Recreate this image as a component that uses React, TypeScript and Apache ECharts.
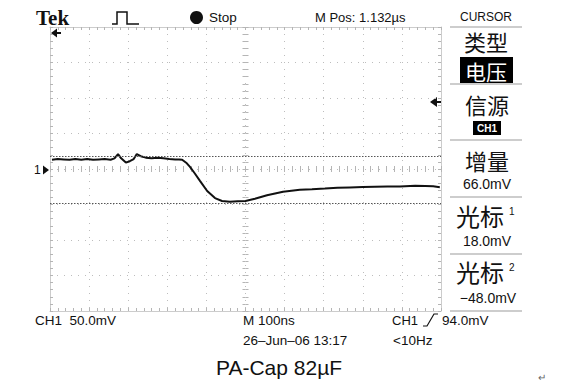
import React, { useEffect, useRef } from "react";
import * as echarts from "echarts";

// Trace samples: time relative to screen centre (ns) and CH1 voltage (mV)
const timeNs = [
  -495, -480, -465, -450, -435, -420, -405, -390, -375, -360,
  -345, -335, -326, -318, -306, -296, -286, -278, -268, -255,
  -240, -225, -210, -195, -180, -170, -162, -150, -142, -130,
  -116, -98, -78, -60, -40, -20, 0, 24, 55, 96,
  139, 170, 203, 235, 267, 300, 331, 363, 395, 434,
  460, 480, 497,
];
const voltageMv = [
  13, 14, 13.5, 13, 14, 13, 14, 13, 13.5, 14,
  13, 15, 21, 15, 9, 11, 14, 21, 18, 16,
  15, 16, 15, 14, 13.5, 13.5, 13, 8, 3, -6,
  -17, -31, -41, -45, -46, -45.5, -45, -42, -37, -32,
  -29.3, -28.5, -27.5, -26.5, -26, -25.5, -25, -24.5, -24.6, -23.7,
  -24, -24.4, -25.8,
];
const cursorMv = [18, -48];
const xRangeNs = [-500, 500];
const yRangeMv = [-200, 200];

const headerMPos = "M Pos: 1.132\u00b5s";
const panelTitle = "CURSOR";
const panelLabels = ["类型", "电压", "信源", "CH1", "增量", "66.0mV", "光标", "18.0mV", "光标", "\u221248.0mV"];
const footerTexts = ["CH1  50.0mV", "M 100ns", "26\u2013Jun\u201306 13:17", "CH1", "94.0mV", "<10Hz"];
const caption = "PA-Cap 82\u00b5F";

const SANS = '"Liberation Sans", Arial, sans-serif';
const CJK = '"Noto Sans CJK SC", sans-serif';

function T(x: number, y: number, text: string, size: number, extra: any = {}) {
  const { font, ...rest } = extra;
  return {
    type: "text",
    x,
    y,
    silent: true,
    style: {
      text,
      font: font || `${size}px ${SANS}`,
      fill: "#111",
      textAlign: "left",
      verticalAlign: "middle",
      ...rest,
    },
  };
}

export default function App() {
  const ref = useRef<HTMLDivElement>(null);
  useEffect(() => {
    if (!ref.current) return;
    const chart = echarts.init(ref.current, undefined, { renderer: "svg" });
    const gridStyle = { color: "#bdbdbd", type: [1, 6] as any, width: 1 };
    const tickAxisX = (pos: string, inside: boolean, offset = 0, line = true) => ({
      type: "value",
      min: xRangeNs[0],
      max: xRangeNs[1],
      interval: 20,
      position: pos,
      offset,
      axisLine: { show: line, onZero: false, lineStyle: { color: "#cccccc", width: 1 } },
      axisTick: { show: true, inside, length: 3, lineStyle: { color: "#b5b5b5" } },
      axisLabel: { show: false },
      splitLine: { show: false },
    });
    const tickAxisY = (pos: string, inside: boolean, offset = 0, line = true) => ({
      type: "value",
      min: yRangeMv[0],
      max: yRangeMv[1],
      interval: 10,
      position: pos,
      offset,
      axisLine: { show: line, onZero: false, lineStyle: { color: "#cccccc", width: 1 } },
      axisTick: { show: true, inside, length: 3, lineStyle: { color: "#b5b5b5" } },
      axisLabel: { show: false },
      splitLine: { show: false },
    });

    const sepYs = [27, 84, 140, 197, 254, 311];
    const graphic: any[] = [
      // header
      T(36, 18, "Tek", 21, { font: `bold 21px "Liberation Serif", serif` }),
      {
        type: "polyline",
        silent: true,
        shape: { points: [[112, 24], [117, 24], [117, 12], [127, 12], [127, 24], [139, 24]] },
        style: { stroke: "#111", lineWidth: 1.5, fill: null },
      },
      { type: "circle", silent: true, shape: { cx: 196.5, cy: 17.5, r: 6.5 }, style: { fill: "#111" } },
      T(209, 17, "Stop", 13.5),
      T(315, 17, headerMPos, 13),
      T(460, 17, panelTitle, 12),
      // markers
      {
        type: "polygon",
        silent: true,
        shape: { points: [[51, 33], [57, 28.5], [57, 37.5]] },
        style: { fill: "#111" },
      },
      { type: "rect", silent: true, shape: { x: 56, y: 32, width: 5, height: 2 }, style: { fill: "#111" } },
      {
        type: "polygon",
        silent: true,
        shape: { points: [[430, 102], [437, 97], [437, 107]] },
        style: { fill: "#111" },
      },
      { type: "rect", silent: true, shape: { x: 436, y: 101, width: 6, height: 2 }, style: { fill: "#111" } },
      T(34, 170, "1", 12),
      {
        type: "polygon",
        silent: true,
        shape: { points: [[43, 165.5], [43, 174.5], [49, 170]] },
        style: { fill: "#111" },
      },
      // right panel boxes
      { type: "rect", silent: true, shape: { x: 460, y: 57, width: 53, height: 26 }, style: { fill: "#000" } },
      { type: "rect", silent: true, shape: { x: 473, y: 121, width: 28, height: 14 }, style: { fill: "#000" } },
      T(486, 41, panelLabels[0], 22, { font: `22px ${CJK}`, textAlign: "center" }),
      T(486, 70.5, panelLabels[1], 21, { font: `21px ${CJK}`, textAlign: "center", fill: "#fff" }),
      T(487, 104, panelLabels[2], 22, { font: `22px ${CJK}`, textAlign: "center" }),
      T(487, 128, panelLabels[3], 10, { font: `bold 10px ${SANS}`, textAlign: "center", fill: "#fff" }),
      T(487, 160, panelLabels[4], 22, { font: `22px ${CJK}`, textAlign: "center" }),
      T(487, 183.5, panelLabels[5], 14, { textAlign: "center" }),
      T(456, 215, panelLabels[6], 24, { font: `24px ${CJK}` }),
      T(509, 211, "1", 10),
      T(487, 241, panelLabels[7], 14, { textAlign: "center" }),
      T(456, 271, panelLabels[8], 24, { font: `24px ${CJK}` }),
      T(509, 267, "2", 10),
      T(488, 297.5, panelLabels[9], 14, { textAlign: "center" }),
      // footer
      T(35, 320, footerTexts[0], 13.5),
      T(243, 320, footerTexts[1], 13.5),
      T(243, 340, footerTexts[2], 13.5),
      T(392, 320, footerTexts[3], 13),
      {
        type: "polyline",
        silent: true,
        shape: { points: [[423, 326], [427, 326], [434, 314], [438, 314]] },
        style: { stroke: "#111", lineWidth: 1.2, fill: null },
      },
      T(442, 320, footerTexts[4], 13.5),
      T(393, 340, footerTexts[5], 13.5),
      T(216, 367, caption, 21),
      T(538, 377, "\u21b5", 10, { fill: "#666" }),
    ];
    sepYs.forEach((y) =>
      graphic.push({
        type: "line",
        silent: true,
        shape: { x1: 450, y1: y, x2: 522, y2: y },
        style: { stroke: "#bdbdbd", lineWidth: 1.5 },
      })
    );

    chart.setOption({
      animation: false,
      backgroundColor: "#ffffff",
      grid: { left: 50, top: 27, width: 391, height: 284, containLabel: false },
      xAxis: [
        {
          type: "value",
          min: xRangeNs[0],
          max: xRangeNs[1],
          interval: 100,
          axisLine: { show: false },
          axisTick: { show: false },
          axisLabel: { show: false },
          splitLine: { show: true, lineStyle: gridStyle },
        },
        tickAxisX("bottom", true),
        tickAxisX("top", true),
        tickAxisX("bottom", true, -142, false),
        tickAxisX("bottom", false, -142, false),
      ],
      yAxis: [
        {
          type: "value",
          min: yRangeMv[0],
          max: yRangeMv[1],
          interval: 50,
          axisLine: { show: false },
          axisTick: { show: false },
          axisLabel: { show: false },
          splitLine: { show: true, lineStyle: gridStyle },
        },
        tickAxisY("left", true),
        tickAxisY("right", true),
        tickAxisY("left", true, -195.5, false),
        tickAxisY("left", false, -195.5, false),
      ],
      series: [
        {
          type: "line",
          xAxisIndex: 0,
          yAxisIndex: 0,
          data: timeNs.map((t, i) => [t, voltageMv[i]]),
          showSymbol: false,
          symbol: "none",
          lineStyle: { color: "#111", width: 2 },
          silent: true,
          markLine: {
            silent: true,
            symbol: "none",
            label: { show: false },
            lineStyle: { color: "#555", type: [1.5, 1.5], width: 1 },
            data: cursorMv.map((v) => ({ yAxis: v })),
          },
        },
      ],
      graphic,
    });
    return () => chart.dispose();
  }, []);
  return (
    <div
      ref={ref}
      style={{ position: "absolute", left: 0, top: 0, width: 580, height: 390, background: "#fff" }}
    />
  );
}
